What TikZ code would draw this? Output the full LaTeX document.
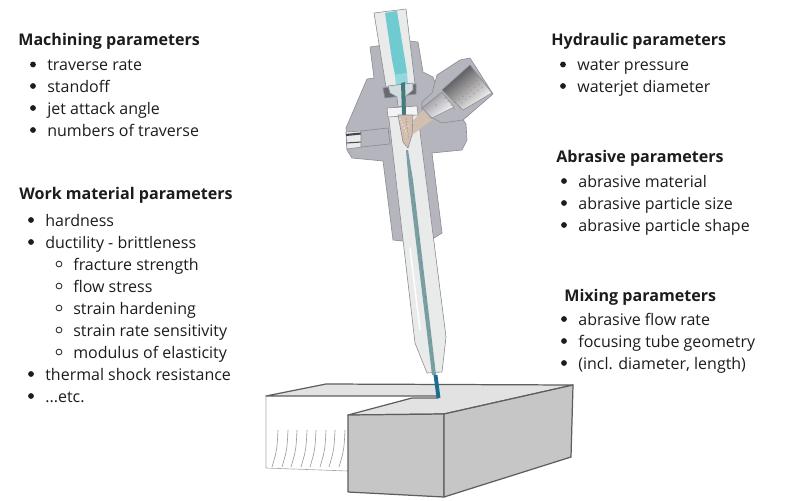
\documentclass[tikz,border=0pt]{standalone}
\usepackage{fontspec}
\setmainfont{Open Sans}
\usetikzlibrary{calc}
\definecolor{ink}     {HTML}{1C1C1C}
\definecolor{bodyc}   {HTML}{B5B5BD}
\definecolor{bodyl}   {HTML}{8C8C94}
\definecolor{tubec}   {HTML}{E9EBEB}
\definecolor{waterc}  {HTML}{6FCBD0}
\definecolor{jetc}    {HTML}{1B6E92}
\definecolor{corec}   {HTML}{7A9FA2}
\definecolor{sandc}   {HTML}{D2BFB0}
\definecolor{grainc}  {HTML}{A07C62}
\definecolor{topc}    {HTML}{E2E2E2}
\definecolor{sidec}   {HTML}{C6C6C6}
\definecolor{edgec}   {HTML}{5E5E5E}
\tikzset{
  head/.style  = {anchor=base west, inner sep=0pt, text=ink, font=\fontsize{9.15}{10}\selectfont\bfseries},
  item/.style  = {anchor=base west, inner sep=0pt, text=ink, font=\fontsize{9.1}{10}\selectfont},
  dot/.style   = {fill=ink, radius=2.9},
  ring/.style  = {draw=ink, line width=0.45pt, radius=2.9},
  part/.style  = {draw=bodyl, line width=0.35pt, line join=round},
  block/.style = {draw=edgec, line width=0.7pt, line join=round},
}
\begin{document}
\begin{tikzpicture}[x=0.02cm,y=-0.02cm]
  \useasboundingbox (0,0) rectangle (800,500);

  % workpiece
  \draw[draw=gray!70, line width=0.35pt] (266,396) -- (266,468) -- (348,471);
  \foreach \xa in {278,288,297,307,316,326,335,345}
    \draw[draw=gray!80, line width=0.35pt] (\xa,430) .. controls (\xa-1,450) .. (\xa-6,467);
  \draw[block, fill=topc] (266,396) -- (326,384) -- (573,385) -- (444,414) -- (348,415)
    -- (412,398) -- (438,398) -- (437,396) -- cycle;
  \draw[block, fill=sidec] (348,415) -- (444,414) -- (444,497) -- (348,492) -- cycle;
  \draw[block, fill=sidec] (444,414) -- (573,385) -- (571,457) -- (444,497) -- cycle;

  % nozzle body
  \fill[bodyc, draw=bodyl, line width=0.35pt, line join=round]
    (370,47) -- (410,41) -- (418,42) -- (423,72) -- (433,77) -- (436,85) -- (462,118)
    -- (466,124) -- (467,140) -- (462,150) -- (432,153) -- (442,233) -- (434,238) -- (402,241) -- (393,240)
    -- (383,161) -- (352,158) -- (347,150) -- (346,128) -- (367,79) -- (374,78) -- cycle;
  \draw[part, fill=tubec] (346,132) -- (361,131) -- (362,147) -- (347,149) -- cycle;
  \draw[bodyl!50!black, line width=1.2pt] (346,135) -- (361,133.5);
  \draw[bodyl!50!black, line width=0.6pt] (346.5,143) -- (361.5,142);
  \draw[part, fill=bodyc] (361,131) -- (388,128) -- (390,144) -- (361,147) -- cycle;

  % mixing tube
  \draw[part, fill=tubec] (388,111) -- (417,108) -- (446,337) -- (442,372) -- (427,373) -- (415,343) -- cycle;
  \draw[part, fill=white!85!bodyc] (387,108) -- (417,106) -- (418,115) -- (388,117) -- cycle;
  \draw[white, line width=0.8pt] (410,248) -- (420,330);

  % inlet tube
  \draw[part, fill=tubec] (374,13) -- (406,9) -- (415,84) -- (386,87) -- cycle;
  \fill[waterc] (385,13) -- (397,11) -- (405,60) -- (407,73) -- (395,75) -- (392,60) -- cycle;
  \fill[waterc!75!white] (395,75) -- (407,73) -- (408,84) -- (396,86) -- cycle;
  \draw[part, fill=bodyl!75!black] (383,88) -- (416,84) -- (416,94) -- (385,98) -- cycle;
  \draw[part, fill=waterc!25!bodyc!50!white] (388,86) -- (413,83) -- (413,90) -- (405,97) -- (406,105) -- (398,107) -- (397,97) -- (390,93) -- cycle;
  \fill[waterc!60!black] (401,83) -- (405,82) -- (406,115) -- (402,115) -- cycle;

  % abrasive inlet
  \draw[part, fill=bodyc] (422,102) -- (432,93) -- (437,75) -- (460,60) -- (470,58) -- (493,94) -- (463,120) -- (442,123) -- (433,118) -- (422,115) -- cycle;
  \draw[part, top color=bodyl!45!black, middle color=sandc, bottom color=white, shading angle=40]
    (442,90) -- (470,65) -- (492,93) -- (463,110) -- cycle;
  \draw[part, top color=bodyl, middle color=sandc, bottom color=white, shading angle=40]
    (422,108) -- (442,92) -- (454,107) -- (432,118) -- cycle;
  \fill[sandc] (407,127) -- (423,110) -- (432,120) -- (412,135) -- cycle;

  % mixing chamber and core
  \draw[part, fill=sandc] (398,115) -- (413,115) -- (412,135) -- (408,148) -- (403,142) -- cycle;
  \fill[corec] (406,150) -- (408,150) -- (413,180) -- (436,375) -- (432,375) -- (408.5,180) -- cycle;
  \foreach \i in {0,...,7}
    \foreach \j in {0,...,3}
      \fill[grainc] ($(445,98)+(\i*4,-\i*3)+(\j*3,\j*3.6)$) circle (0.55);
  \foreach \k in {0,...,6}
    \fill[white!75!brown] ($(432,108)+(-\k*4.0,\k*3.0)$) circle (0.9) ($(400,119)+(\k*1.4,\k*3)$) circle (0.9);
  \foreach \k in {0,...,6}
    \fill[grainc] ($(436,105)+(-\k*4.0,\k*3.0)$) circle (0.6) ($(406,119)+(\k*0.4,\k*3)$) circle (0.6);
  \foreach \k in {0,...,17}
    \fill[bodyl!50!black, opacity=0.6] ($(410.5,172)+(\k*1.35,\k*11.3)$) circle (0.45);

  % jet
  \draw[jetc, line width=2.2pt] (435.5,375) -- (438.5,398);

  % machining parameters
  \node[head] (machining) at (18,46) {Machining parameters};
  \foreach \yy/\txt in {70.5/traverse rate,92/standoff,114/jet attack angle,136/numbers of traverse}{
    \fill[dot] (33,\yy-6) circle;
    \node[item] (mach\yy) at (47,\yy) {\txt};
  }

  % work material parameters
  \node[head] (material) at (19,199) {Work material parameters};
  \foreach \yy/\txt in {226/hardness,248/ductility - brittleness,380/thermal shock resistance}{
    \fill[dot] (31,\yy-6) circle;
    \node[item] (work\yy) at (45,\yy) {\txt};
  }
  \fill[dot] (31,396) circle;
  \node[item] (etc) at (45,402) {...etc.};
  \foreach \yy/\txt in {270/fracture strength,292/flow stress,314/strain hardening,336/strain rate sensitivity,358/modulus of elasticity}{
    \draw[ring] (59,\yy-6) circle;
    \node[item] (sub\yy) at (73,\yy) {\txt};
  }

  % hydraulic parameters
  \node[head] (hydraulic) at (551,46) {Hydraulic parameters};
  \foreach \yy/\txt in {70.5/water pressure,92/waterjet diameter}{
    \fill[dot] (563,\yy-6) circle;
    \node[item] (hyd\yy) at (577,\yy) {\txt};
  }

  % abrasive parameters
  \node[head] (abrasive) at (556,162) {Abrasive parameters};
  \foreach \yy/\txt in {187/abrasive material,209/abrasive particle size,231/abrasive particle shape}{
    \fill[dot] (564,\yy-6) circle;
    \node[item] (abr\yy) at (578,\yy) {\txt};
  }

  % mixing parameters
  \node[head] (mixing) at (564,301) {Mixing parameters};
  \foreach \yy/\txt in {325/abrasive flow rate,347/focusing tube geometry,369/{(incl. diameter, length)}}{
    \fill[dot] (564,\yy-6) circle;
    \node[item] (mix\yy) at (578,\yy) {\txt};
  }
\end{tikzpicture}
\end{document}
